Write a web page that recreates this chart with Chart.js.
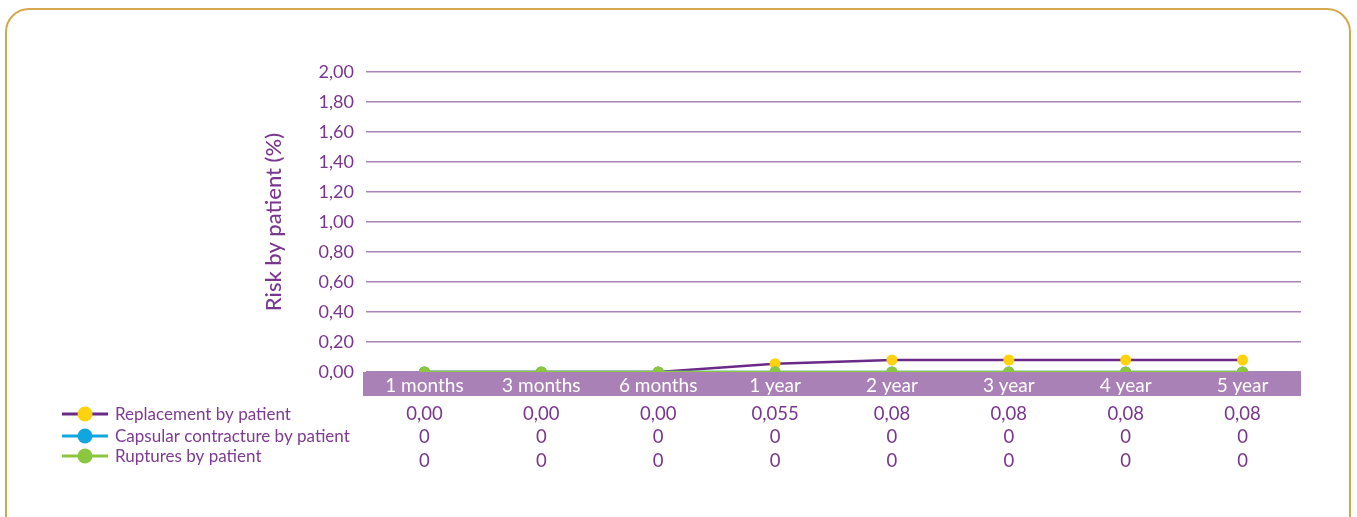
<!DOCTYPE html>
<html>
<head>
<meta charset="utf-8">
<script src="https://cdn.jsdelivr.net/npm/chart.js@4/dist/chart.umd.min.js"></script>
<style>
    html, body { margin: 0; padding: 0; background: #fff; overflow: hidden; }
    #card {
        position: absolute; left: 5px; top: 8px; width: 1346px; height: 540px;
        border: 2px solid #d6a84e; border-radius: 24px; box-sizing: border-box;
    }
    #wrap { position: absolute; left: 0; top: 0; width: 1357px; height: 517px; }
</style>
</head>
<body>
<div id="card"></div>
<div id="wrap"><canvas id="chartRisk"></canvas></div>
<script>
// Risk by patient

const periods = ["1 months", "3 months", "6 months", "1 year", "2 year", "3 year", "4 year", "5 year"];

const replacement = [0, 0, 0, 0.055, 0.08, 0.08, 0.08, 0.08];
const capsular = [0, 0, 0, 0, 0, 0, 0, 0];
const ruptures = [0, 0, 0, 0, 0, 0, 0, 0];

// values as printed in the table under the chart
const replacementText = ["0,00", "0,00", "0,00", "0,055", "0,08", "0,08", "0,08", "0,08"];
const capsularText = ["0", "0", "0", "0", "0", "0", "0", "0"];
const rupturesText = ["0", "0", "0", "0", "0", "0", "0", "0"];

const seriesNames = ["Replacement by patient", "Capsular contracture by patient", "Ruptures by patient"];

const purple = "#7a3590";
const fontFamily = "Lato, 'Open Sans', sans-serif";

// band behind x labels + legend + value table
const tablePlugin = {
    id: "tablePlugin",
    beforeDraw(chart) {
        const ctx = chart.ctx;
        const area = chart.chartArea;
        ctx.save();
        ctx.fillStyle = "#a981b6";
        ctx.fillRect(area.left - 3, area.bottom, area.right - area.left + 3, 24);
        ctx.restore();
    },
    afterDraw(chart) {
        const ctx = chart.ctx;
        const x = chart.scales.x;
        const rows = [replacementText, capsularText, rupturesText];
        const rowY = [414, 437, 461];
        ctx.save();
        ctx.font = "18.5px " + fontFamily;
        ctx.fillStyle = purple;
        ctx.textAlign = "center";
        ctx.textBaseline = "middle";
        rows.forEach((row, r) => {
            row.forEach((txt, i) => {
                ctx.fillText(txt, x.getPixelForValue(i), rowY[r]);
            });
        });

        // legend
        const legY = [414, 436, 456];
        chart.data.datasets.forEach((ds, i) => {
            ctx.strokeStyle = ds.borderColor;
            ctx.lineWidth = 3;
            ctx.beginPath();
            ctx.moveTo(62, legY[i]);
            ctx.lineTo(108, legY[i]);
            ctx.stroke();
            ctx.fillStyle = ds.pointBackgroundColor;
            ctx.beginPath();
            ctx.arc(85, legY[i], 7.5, 0, Math.PI * 2);
            ctx.fill();
            ctx.fillStyle = "#7e3b91";
            ctx.font = "17px " + fontFamily;
            ctx.textAlign = "left";
            ctx.fillText(seriesNames[i], 115, legY[i] + 1);
        });
        ctx.restore();
    },
};

setupChart = () => {
    const config = {
        type: "line",
        data: {
            labels: periods,
            datasets: [
                {
                    label: seriesNames[0],
                    data: replacement,
                    borderColor: "#6b2a88",
                    pointBackgroundColor: "#fdd20e",
                    pointBorderWidth: 0,
                    pointRadius: 5.5,
                    borderWidth: 2.5,
                    order: 2,
                },
                {
                    label: seriesNames[1],
                    data: capsular,
                    borderColor: "#12a6e0",
                    pointBackgroundColor: "#12a6e0",
                    pointBorderWidth: 0,
                    pointRadius: 5.5,
                    borderWidth: 2.5,
                    order: 1,
                },
                {
                    label: seriesNames[2],
                    data: ruptures,
                    borderColor: "#8cc63e",
                    pointBackgroundColor: "#8cc63e",
                    pointBorderWidth: 0,
                    pointRadius: 5.5,
                    borderWidth: 2.5,
                    order: 0,
                },
            ],
        },
        options: {
            responsive: false,
            animation: false,
            layout: { padding: { left: 253, right: 56, top: 72, bottom: 121 } },
            plugins: {
                legend: { display: false },
                tooltip: { enabled: false },
            },
            scales: {
                x: {
                    offset: true,
                    grid: { display: false, drawTicks: false },
                    border: { display: false },
                    ticks: {
                        color: "#ffffff",
                        padding: 2,
                        maxRotation: 0,
                        font: { family: fontFamily, size: 19 },
                    },
                    afterFit: (scale) => { scale.height = 24; },
                },
                y: {
                    min: 0,
                    max: 2,
                    grid: { color: "#a984b8", lineWidth: 1.5, drawTicks: false },
                    border: { display: false },
                    ticks: {
                        stepSize: 0.2,
                        padding: 12,
                        color: purple,
                        font: { family: fontFamily, size: 18 },
                        callback: (v) => v.toFixed(2).replace(".", ","),
                    },
                    title: {
                        display: true,
                        text: "Risk by patient (%)",
                        color: purple,
                        padding: { top: 8, bottom: 0 },
                        font: { family: fontFamily, size: 22, weight: "500" },
                    },
                    afterFit: (scale) => { scale.width = 113; },
                },
            },
        },
        plugins: [tablePlugin],
    };

    const canvas = document.getElementById("chartRisk");
    canvas.width = 1357;
    canvas.height = 517;
    new Chart(canvas, config);
};

setupChart();
</script>
</body>
</html>
